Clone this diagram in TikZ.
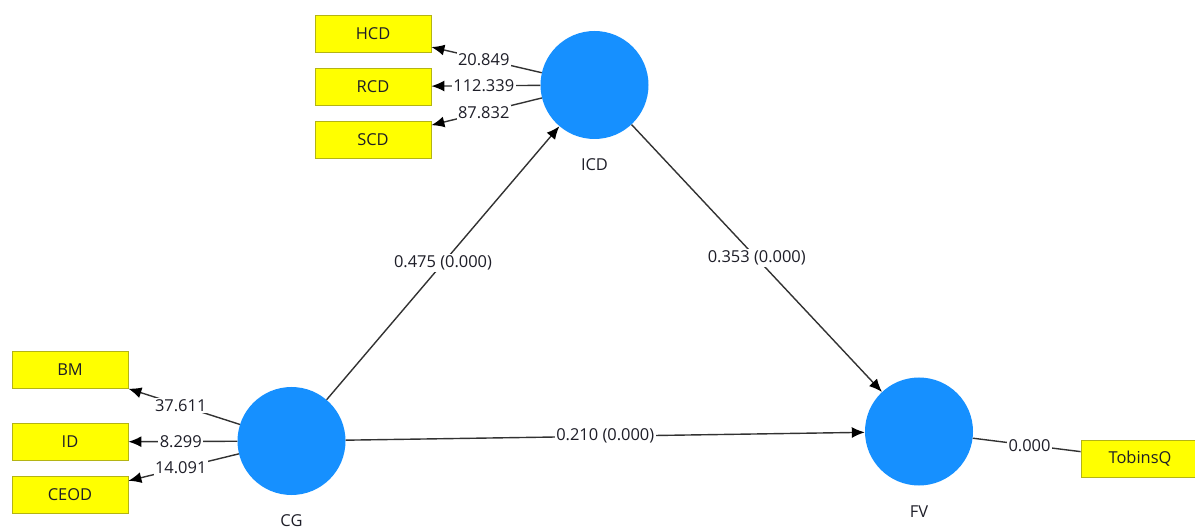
\documentclass[tikz,border=0pt]{standalone}
\usepackage{fontspec}
\setmainfont{Open Sans}
\usetikzlibrary{arrows.meta,calc}
\definecolor{lvblue}{RGB}{22,144,255}
\definecolor{indyellow}{RGB}{255,255,0}
\definecolor{indborder}{RGB}{180,180,20}
\definecolor{linkgray}{RGB}{50,50,50}
\definecolor{txt}{RGB}{30,30,40}
\tikzset{
  latent/.style={circle, fill=lvblue, draw=none, minimum size=108bp, inner sep=0pt},
  indicator/.style={rectangle, fill=indyellow, draw=indborder, line width=0.8bp,
    minimum width=116bp, minimum height=37bp, inner sep=0pt, text=txt},
  lvname/.style={text=txt},
  link/.style={draw=linkgray, line width=1.4bp},
  arr/.style={link, -{Latex[length=13bp,width=11bp,color=black]}},
  coef/.style={fill=white, inner sep=1.5bp, text=txt},
}
\begin{document}
\begin{tikzpicture}[x=1bp,y=-1bp,font=\fontsize{16.5}{18}\selectfont]
\useasboundingbox (0,0) rectangle (1195,529);

% latent variables
\node[latent] (ICD) at (594.5,85) {};
\node[latent] (CG) at (291.5,441) {};
\node[latent] (FV) at (919,431.5) {};
\node[lvname] (ICDl) at (594.5,165) {ICD};
\node[lvname] (CGl) at (291.5,521) {CG};
\node[lvname] (FVl) at (919,512) {FV};

% indicators
\node[indicator] (HCD) at (373,33.5) {HCD};
\node[indicator] (RCD) at (373,86.5) {RCD};
\node[indicator] (SCD) at (373,139.5) {SCD};
\node[indicator] (BM) at (70,370) {BM};
\node[indicator] (ID) at (70,442) {ID};
\node[indicator] (CEOD) at (70,495) {CEOD};
\node[indicator, minimum width=118bp] (TQ) at (1140,459) {TobinsQ};

% outer model
\draw[arr] (ICD) -- (HCD);
\draw[arr] (ICD) -- (RCD);
\draw[arr] (ICD) -- (SCD);
\draw[arr] (CG) -- (BM);
\draw[arr] (CG) -- (ID);
\draw[arr] (CG) -- (CEOD);
\draw[link] (FV) -- (TQ);

% inner model
\draw[arr] (CG) -- (ICD);
\draw[arr] (ICD) -- (FV);
\draw[arr] (CG) -- (FV);

% coefficients
\node[coef] (cHCD) at ($(ICD)!0.5!(HCD)$) {20.849};
\node[coef] (cRCD) at ($(ICD)!0.5!(RCD)$) {112.339};
\node[coef] (cSCD) at ($(ICD)!0.5!(SCD)$) {87.832};
\node[coef] (cBM) at ($(CG)!0.5!(BM)$) {37.611};
\node[coef] (cID) at ($(CG)!0.5!(ID)$) {8.299};
\node[coef] (cCEOD) at ($(CG)!0.5!(CEOD)$) {14.091};
\node[coef] (cTQ) at ($(FV)!0.5!(TQ)$) {0.000};
\node[coef] (cCGICD) at ($(CG)!0.5!(ICD)$) {0.475 (0.000)};
\node[coef] (cICDFV) at ($(ICD)!0.5!(FV)$) {0.353 (0.000)};
\node[coef] (cCGFV) at ($(CG)!0.5!(FV)$) {0.210 (0.000)};
\end{tikzpicture}
\end{document}
